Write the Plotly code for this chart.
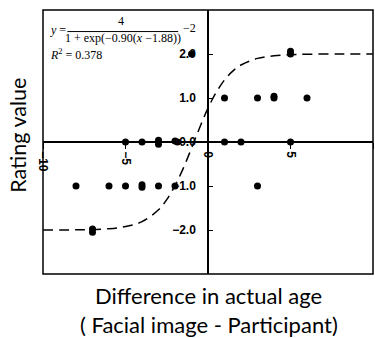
import plotly.graph_objects as go

# Scatter data: difference in actual age (facial image - participant) vs rating value
age_diff = [-1, 5, 5, 1, 3, 4, 4, 6,
            -5, -4, -3, -3, -2, -1.85, 1, 2, 5,
            -8, -6, -5, -4, -4, -3, -2, 3,
            -7, -7]
rating = [2.0, 2.0, 2.06, 1.0, 1.0, 1.0, 1.04, 1.0,
          0.0, 0.0, 0.04, -0.05, 0.02, 0.0, 0.0, 0.0, 0.0,
          -1.0, -1.0, -1.0, -0.97, -1.03, -1.0, -1.0, -1.0,
          -1.98, -2.05]

# Fitted logistic curve
fit_x = [-10, -8, -6, -5, -4, -3, -2.5, -2, -1.5, -1, -0.5, 0, 0.5, 1, 1.5, 2, 3, 4, 5, 6, 8, 10]
fit_y = [-2.0, -1.996, -1.97, -1.92, -1.81, -1.54, -1.31, -0.99, -0.60, -0.14, 0.33, 0.77,
         1.13, 1.41, 1.61, 1.75, 1.90, 1.96, 1.985, 1.995, 2.0, 2.0]

x_tickvals = [-10, -5, 0, 5, 10]
x_ticktext = ["\u221210", "\u22125", "0", "5", "10"]
y_tickvals = [-2, -1, 0, 1, 2]
y_ticktext = ["\u22122.0", "\u22121.0", "0.0", "1.0", "2.0"]

fig = go.Figure()
fig.add_trace(go.Scatter(x=fit_x, y=fit_y, mode="lines", line=dict(color="black", width=1.5, dash="10px,6px", shape="spline"),
                         hoverinfo="skip", showlegend=False))
fig.add_trace(go.Scatter(x=age_diff, y=rating, mode="markers", marker=dict(color="black", size=7),
                         showlegend=False))

tickfont = dict(family="Liberation Sans, Arial", size=12, color="black", weight="bold")
fig.update_layout(
    width=375, height=338,
    margin=dict(l=43, r=2, t=10, b=64),
    paper_bgcolor="white", plot_bgcolor="white",
    xaxis=dict(range=[-10, 10], anchor="free", position=0.5, showline=True, linecolor="black", linewidth=1.5,
               ticks="outside", ticklen=6, tickwidth=1.2, tickcolor="black",
               tickvals=x_tickvals, ticktext=x_ticktext, tickangle=90, tickfont=tickfont,
               showgrid=False, zeroline=False),
    yaxis=dict(range=[-3, 3], anchor="free", position=0.5, showline=True, linecolor="black", linewidth=1.5,
               ticks="inside", ticklen=4, tickwidth=1.2, tickcolor="black",
               tickvals=y_tickvals, ticktext=y_ticktext, tickfont=tickfont, ticklabelstandoff=9,
               showgrid=False, zeroline=False),
    shapes=[
        dict(type="rect", xref="paper", yref="paper", x0=0, x1=1, y0=0, y1=1, line=dict(color="black", width=1.5)),
        dict(type="line", xref="x", yref="y", x0=-8.52, x1=-1.81, y0=2.51, y1=2.51, line=dict(color="black", width=1)),
    ],
)

serif = dict(family="Liberation Serif, Times New Roman", size=12, color="black")
ann = [
    dict(x=-9.67, y=2.55, text="<i>y</i> =", xanchor="left"),
    dict(x=-5.25, y=2.76, text="4", xanchor="center"),
    dict(x=-5.16, y=2.36, text="1 + exp(\u22120.90(<i>x</i> \u22121.88))", xanchor="center"),
    dict(x=-1.63, y=2.58, text="\u22122", xanchor="left"),
    dict(x=-9.67, y=2.0, text="<i>R</i><sup>2</sup> = 0.378", xanchor="left"),
]
for a in ann:
    fig.add_annotation(xref="x", yref="y", yanchor="middle", showarrow=False, font=serif, **a)

title_font = dict(family="Lato, Open Sans", size=22, color="black")
fig.add_annotation(xref="paper", yref="paper", x=0.503, y=-0.083, text="Difference in actual age",
                   showarrow=False, font=title_font, xanchor="center", yanchor="middle")
fig.add_annotation(xref="paper", yref="paper", x=0.503, y=-0.193, text="( Facial image - Participant)",
                   showarrow=False, font=title_font, xanchor="center", yanchor="middle")
fig.add_annotation(xref="paper", yref="paper", x=-0.0758, y=0.527, text="Rating value", textangle=-90,
                   showarrow=False, font=dict(family="Lato, Open Sans", size=21.5, color="black"),
                   xanchor="center", yanchor="middle")

fig.write_html("out.html", config={"displayModeBar": False},
               post_script="document.body.style.margin='0';document.body.style.padding='0';")
